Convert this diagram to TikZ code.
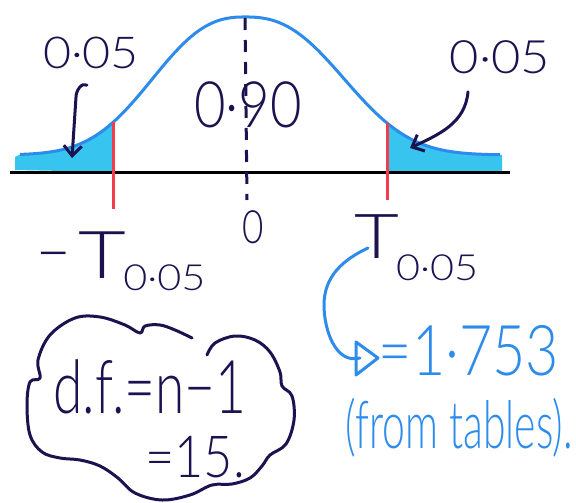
\documentclass[tikz,border=0pt]{standalone}
\usepackage{fontspec}
\IfFontExistsTF{Lato Light}{\setmainfont{Lato Light}}{\setmainfont{Lato}}
\usetikzlibrary{arrows.meta}
\definecolor{inkc}{HTML}{1B1350}
\definecolor{bluec}{HTML}{2D8CEB}
\definecolor{tailc}{HTML}{37C5F0}
\definecolor{redc}{HTML}{F43D4C}
\newcommand{\fs}[1]{\fontsize{#1}{#1}\selectfont}
\tikzset{
  inkline/.style={draw=inkc, line width=3pt, line cap=round, line join=round},
  blueline/.style={draw=bluec, line width=3pt, line cap=round, line join=round},
  curveline/.style={draw=bluec, line width=3pt},
  axisline/.style={draw=black, line width=3pt},
  redline/.style={draw=redc, line width=3pt},
  tailfill/.style={fill=tailc},
  txt/.style={text=inkc, inner sep=0pt},
  btxt/.style={text=bluec, inner sep=0pt},
}
\begin{document}
\begin{tikzpicture}[x=1pt,y=-1pt,
  declare function={sg(\x)=(\x<245)*114+(\x>=245)*122;
    g(\x)=155-138*exp(-((abs(\x-245)+0.001)/sg(\x))^2.5);}]
\useasboundingbox (0,0) rectangle (576,503);

% shaded tails
\fill[tailfill] (15,170) -- (15,157) -- plot[domain=20:113,samples=40] (\x,{g(\x)}) -- (113,172) -- cycle;
\fill[tailfill] (387,172) -- plot[domain=387:502,samples=40] (\x,{g(\x)}) -- (502,172) -- cycle;

% axis
\coordinate (axL) at (10,172);
\coordinate (axR) at (510,172);
\draw[axisline] (axL) -- (axR);

% curve
\draw[curveline] plot[domain=20:500,samples=121,smooth] (\x,{g(\x)});

% red lines
\coordinate (rlTop) at (113,{g(113)});
\coordinate (rlBot) at (113,209);
\coordinate (rrTop) at (387,{g(387)});
\coordinate (rrBot) at (387,200);
\draw[redline] (rlTop) -- (rlBot);
\draw[redline] (rrTop) -- (rrBot);

% centre dashed line
\coordinate (cTop) at (245,18);
\coordinate (cBot) at (247,200);
\draw[inkline, line cap=butt, dash pattern=on 12pt off 10pt] (cTop) -- (cBot);

% labels
\node[txt] (l05) at (91,53) {\scalebox{1.1}[1]{\fs{44}0·05}};
\node[txt] (r05) at (500,57) {\scalebox{1.1}[1]{\fs{46}0·05}};
\node[txt] (c90) at (248,105) {\scalebox{0.85}[1]{\fs{64}0·90}};
\node[txt] (zero) at (253,227) {\scalebox{0.8}[1]{\fs{46}0}};

\node[txt, anchor=base west] (negT) at (36,278)
  {\fs{66}\raisebox{3pt}{\scalebox{0.9}[1]{−}}\hspace{8pt}\scalebox{1.25}[1]{T}\hspace{-3pt}\raisebox{-12pt}{\scalebox{1.15}[1]{\fs{36}0·05}}};
\node[txt, anchor=base west] (posT) at (354,258)
  {\fs{62}\scalebox{1.25}[1]{T}\hspace{-3pt}\raisebox{-22pt}{\scalebox{1.15}[1]{\fs{36}0·05}}};

% arrows from 0.05 labels
\coordinate (lTip) at (72,158);
\draw[inkline, -{Straight Barb[length=10pt,width=18pt]}]
  (l05.south) ++(-4,16) to[out=150,in=90] ++(-11,12) -- (lTip);
\coordinate (rTip) at (410,148);
\draw[inkline, -{Straight Barb[length=10pt,width=18pt]}]
  (r05.south) ++(-32,18) to[out=-95,in=25] (rTip);

% blue value
\node[btxt, anchor=base] (val) at (469,375) {\scalebox{0.82}[1]{\fs{70}=1·753}};
\node[btxt, anchor=base] (tab) at (459,448) {\scalebox{0.62}[1]{\fs{66}(from tables).}};
\coordinate (bStart) at (368,248);
\coordinate (bEnd) at (360,358);
\coordinate (bTip) at (378,358);
\coordinate (bH1) at (356,342);
\coordinate (bH2) at (356,375);
\draw[blueline] (bStart) to[out=205,in=90] (324,305) to[out=-90,in=195] (bEnd);
\draw[blueline] (bH1) -- (bTip) -- (bH2) -- cycle;

% cloud with d.f.
\node[txt, anchor=base] (df) at (150,413) {\scalebox{0.72}[1]{\fs{74}d.f.=n−1}};
\node[txt, anchor=base] (df15) at (195,477) {\scalebox{0.87}[1]{\fs{58}=15.}};
\draw[inkline] plot[smooth, tension=0.6] coordinates {
  (207,355) (215,343) (235,336) (255,340) (270,352) (280,372) (282,386)
  (292,396) (294,420) (286,444) (270,455)
  (262,466) (250,478) (232,484) (212,485) (190,495) (162,500) (135,493)
  (118,478) (100,466) (80,460) (60,458) (42,452) (30,435) (27,405)
  (30,382) (40,378) (38,360) (50,335) (75,318) (100,317) (125,325)
  (140,333) (145,326) (160,325) (175,330) (192,338)};
\end{tikzpicture}
\end{document}
